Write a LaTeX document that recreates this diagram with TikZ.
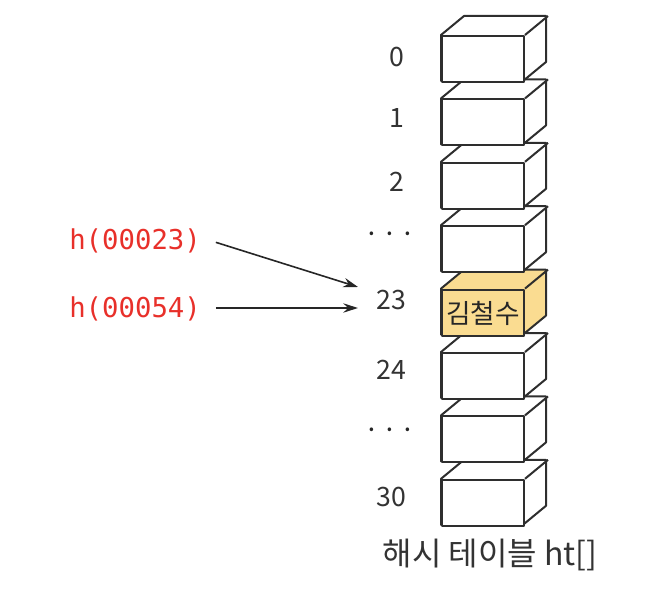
\documentclass[tikz,border=0pt]{standalone}
\usepackage{fontspec}
\setmainfont{Noto Sans CJK KR}
\newfontfamily\codefont{DejaVu Sans Mono}
\usetikzlibrary{arrows.meta}
\definecolor{hred}{RGB}{232,48,42}
\definecolor{hitfill}{RGB}{250,220,145}
\begin{document}
\begin{tikzpicture}[x=0.75pt,y=-0.75pt,
  edge/.style={draw=black!82,line width=1.5pt,line join=round},
  front/.style={edge,fill=white,minimum width=61.5pt,minimum height=34.5pt,inner sep=0pt,anchor=north west},
  idx/.style={font=\fontsize{20}{22}\selectfont,text=black!80},
  dots/.style={font=\fontsize{20}{22}\selectfont,text=black!85},
  hlabel/.style={font=\codefont\fontsize{20.5}{24}\selectfont,text=hred,anchor=west,inner sep=0pt},
  arr/.style={draw=black!85,line width=1.2pt,-{Stealth[length=11pt,width=7pt]}}]
\useasboundingbox (0,0) rectangle (668,606);
\foreach \i/\fc in {7/white,6/white,5/white,4/hitfill,3/white,2/white,1/white,0/white}{
  \coordinate (c\i) at (441,{35+63.4*\i});
  \path[edge,fill=\fc] (c\i) -- ++(23,-19) -- ++(82,0) -- ++(0,46) -- ++(-23,19) -- ++(-82,0) -- cycle;
  \node[front,fill=\fc] (b\i) at (c\i) {};
  \draw[edge] (b\i.north east) -- ++(23,-19);
}
\node[font=\fontsize{20}{22}\selectfont,text=black!85] (name) at ([yshift=-1pt]b4.center) {김철수};
\node[idx] (l0) at (397,57) {0};
\node[idx] (l1) at (397,118) {1};
\node[idx] (l2) at (397,182) {2};
\node[dots] (l3) at (390,238) {·\hspace{2pt}·\hspace{2pt}·};
\node[idx] (l4) at (391,300) {23};
\node[idx] (l5) at (391,370) {24};
\node[dots] (l6) at (390,434) {·\hspace{2pt}·\hspace{2pt}·};
\node[idx] (l7) at (391,497) {30};
\node[font=\fontsize{24}{26}\selectfont,text=black!80] (cap) at (490,555) {해시 테이블 ht[]};
\node[hlabel] (h1) at (69,241) {h(00023)};
\node[hlabel] (h2) at (69,309) {h(00054)};
\coordinate (e1) at (358,287);
\coordinate (e2) at (358,308);
\draw[arr] ([xshift=11pt,yshift=-1pt]h1.east) -- (e1);
\draw[arr] ([xshift=11pt]h2.east |- e2) -- (e2);
\end{tikzpicture}
\end{document}
